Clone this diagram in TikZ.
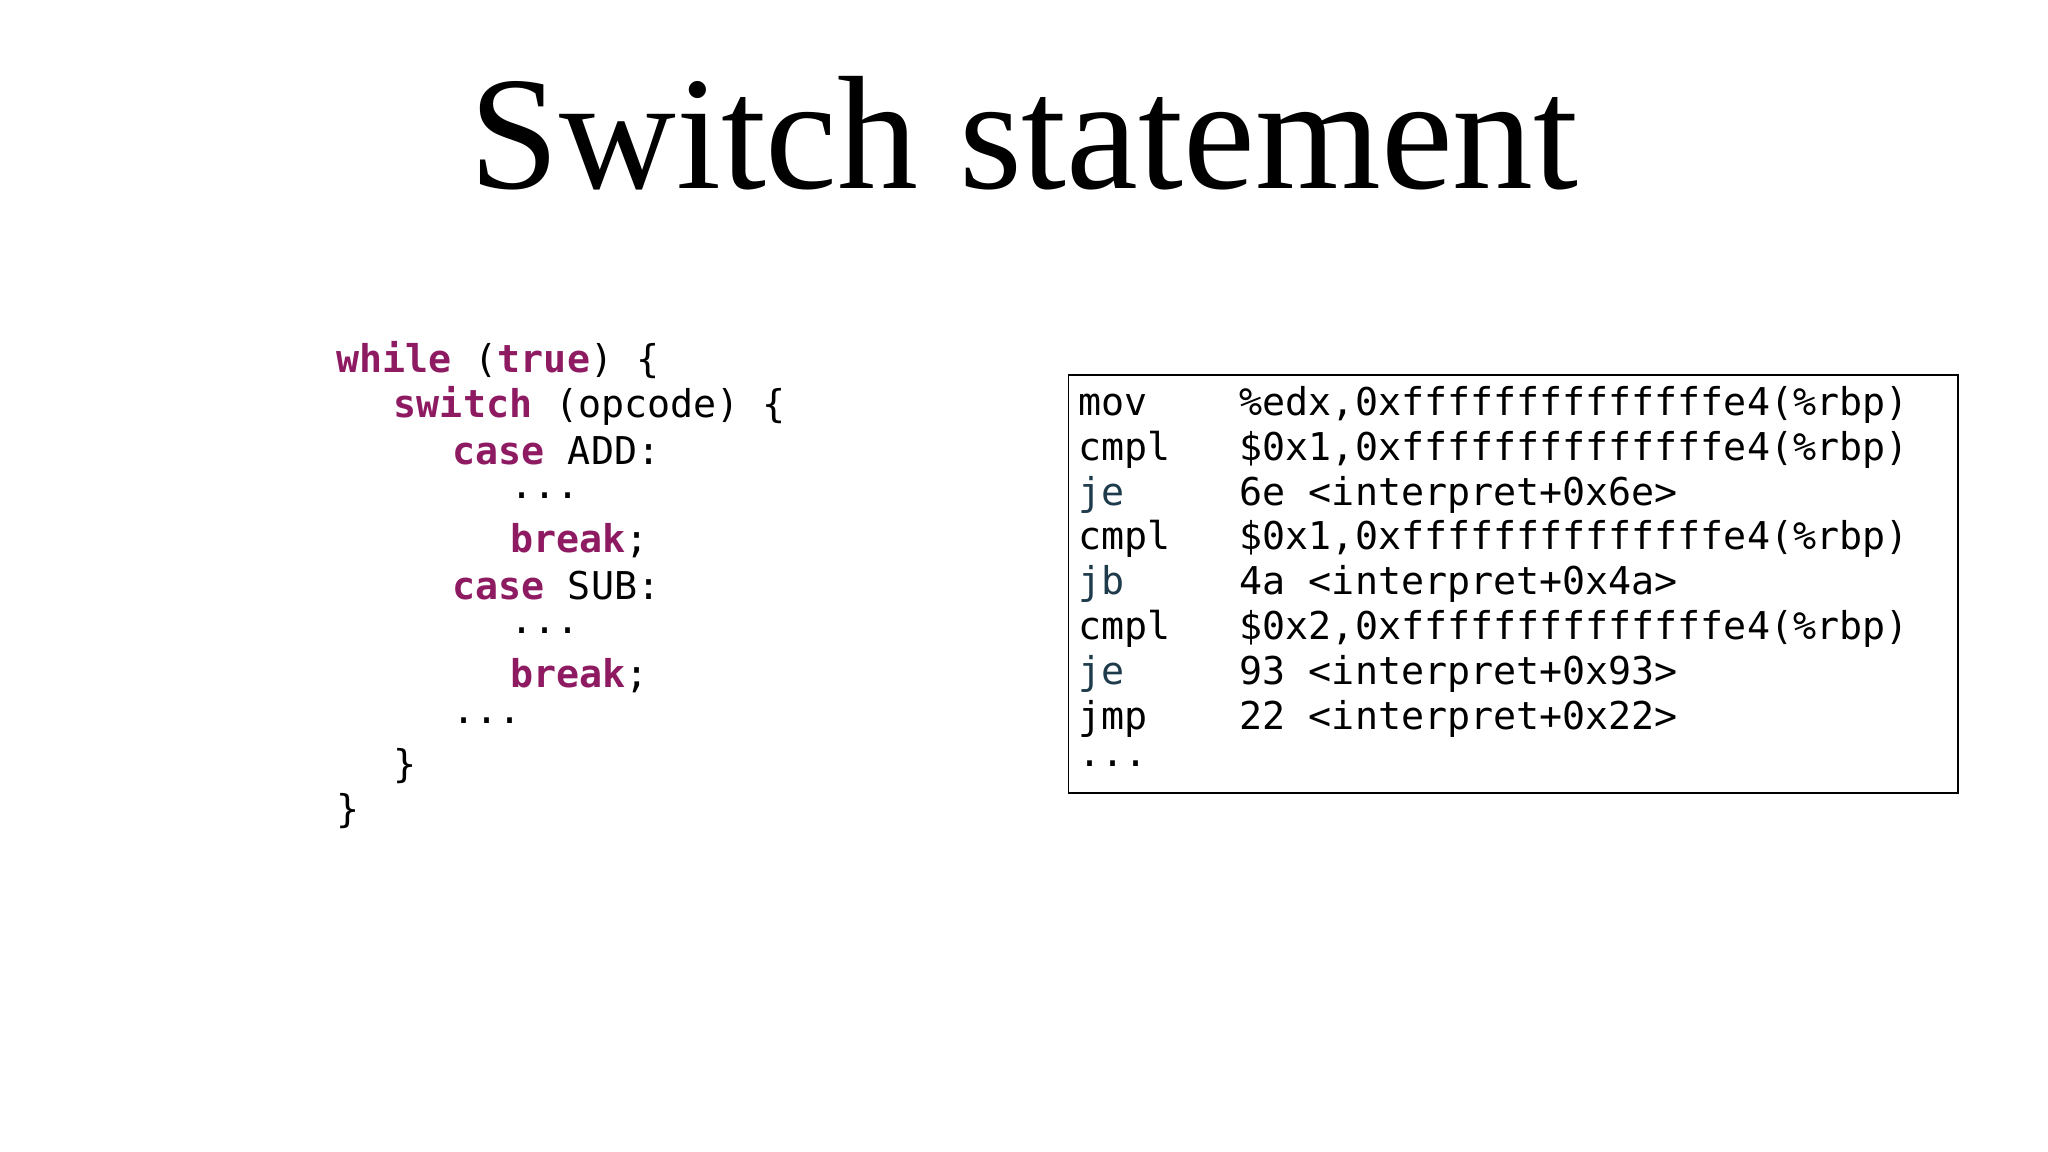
\documentclass[tikz,border=0pt]{standalone}
\usepackage{fontspec}
\setmainfont{Liberation Serif}
\setmonofont{DejaVu Sans Mono}
\definecolor{kw}{HTML}{8E1B62}
\definecolor{jmpc}{HTML}{1E3B4C}
\tikzset{code/.style={anchor=west,inner sep=0pt,font=\ttfamily\fontsize{10.9}{12}\selectfont}}
\newcommand{\kwd}[1]{\textcolor{kw}{\textbf{#1}}}
\newcommand{\jop}[1]{\textcolor{jmpc}{#1}}
\begin{document}
\begin{tikzpicture}[x=0.013061cm,y=-0.013061cm]
 \useasboundingbox (0,0) rectangle (1568,882);
 \node (title) at (784,102) {\fontsize{46}{50}\selectfont Switch statement};
 % source code
 \node[code] (c1) at (257,276) {\kwd{while} (\kwd{true}) \{};
 \node[code] (c2) at (301,310.5) {\kwd{switch} (opcode) \{};
 \node[code] (c3) at (346,345) {\kwd{case} ADD:};
 \node[code] (c4) at (390,379.5) {...};
 \node[code] (c5) at (390,414) {\kwd{break};};
 \node[code] (c6) at (346,448.5) {\kwd{case} SUB:};
 \node[code] (c7) at (390,483) {...};
 \node[code] (c8) at (390,517.5) {\kwd{break};};
 \node[code] (c9) at (346,552) {...};
 \node[code] (c10) at (301,586.5) {\}};
 \node[code] (c11) at (257,621) {\}};
 % disassembly
 \draw (818,287) rectangle (1499,607);
 \node[code] (a1) at (825,310) {mov\ \ \ \ \%edx,0xffffffffffffffe4(\%rbp)};
 \node[code] (a2) at (825,344.3) {cmpl\ \ \ \$0x1,0xffffffffffffffe4(\%rbp)};
 \node[code] (a3) at (825,378.6) {\jop{je}\ \ \ \ \ 6e <interpret+0x6e>};
 \node[code] (a4) at (825,412.9) {cmpl\ \ \ \$0x1,0xffffffffffffffe4(\%rbp)};
 \node[code] (a5) at (825,447.2) {\jop{jb}\ \ \ \ \ 4a <interpret+0x4a>};
 \node[code] (a6) at (825,481.5) {cmpl\ \ \ \$0x2,0xffffffffffffffe4(\%rbp)};
 \node[code] (a7) at (825,515.8) {\jop{je}\ \ \ \ \ 93 <interpret+0x93>};
 \node[code] (a8) at (825,550.1) {jmp\ \ \ \ 22 <interpret+0x22>};
 \node[code] (a9) at (825,584.4) {...};
\end{tikzpicture}
\end{document}
